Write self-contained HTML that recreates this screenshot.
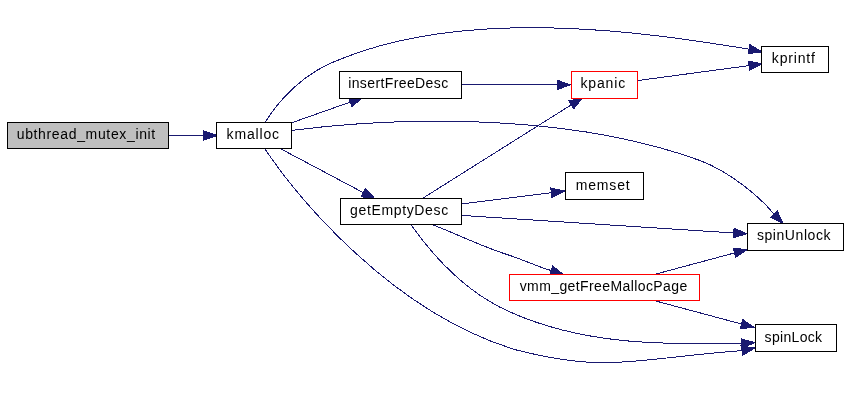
<!DOCTYPE html><html><head><meta charset="utf-8"><style>html,body{margin:0;padding:0;background:#fff;overflow:hidden}svg{display:block;will-change:transform}text{font-family:"Liberation Sans",sans-serif;fill:#000}</style></head><body>
<svg width="848" height="407" viewBox="0 0 848 407"><style>path,polygon,rect{shape-rendering:crispEdges}</style>
<rect width="848" height="407" fill="#fff"/>
<path d="M169.38,135.54C180.98,135.54 192.63,135.54 203.41,135.54" fill="none" stroke="#191970" stroke-width="1.0"/>
<polygon points="203.63,130.87 216.97,135.54 203.63,140.2 203.63,130.87" fill="#191970" stroke="#191970" stroke-width="1.0"/>
<path d="M291.81,122.75C309.46,116.51 330.95,108.91 350.05,102.16" fill="none" stroke="#191970" stroke-width="1.0"/>
<polygon points="348.69,97.7 362.81,97.66 351.79,106.5 348.69,97.7" fill="#191970" stroke="#191970" stroke-width="1.0"/>
<path d="M264.71,122.79C278.22,101.31 303.00,72.41 340.74,59.05C477.78,3.50 667.11,36.00 748.91,49.15" fill="none" stroke="#191970" stroke-width="1.0"/>
<polygon points="749.91,44.59 762.01,51.88 747.99,53.72 749.91,44.59" fill="#191970" stroke="#191970" stroke-width="1.0"/>
<path d="M279.95,148.43C302.74,160.51 337.09,178.72 363.03,192.48" fill="none" stroke="#191970" stroke-width="1.0"/>
<polygon points="365.42,188.47 375.01,198.83 361.05,196.71 365.42,188.47" fill="#191970" stroke="#191970" stroke-width="1.0"/>
<path d="M291.70,130.40C369.23,120.32 553.65,107.03 700.95,160.85C729.73,172.12 759.22,195.95 773.81,213.96" fill="none" stroke="#191970" stroke-width="1.0"/>
<polygon points="777.29,210.86 783.05,223.75 770.5,217.26 777.29,210.86" fill="#191970" stroke="#191970" stroke-width="1.0"/>
<path d="M264.73,148.66C294.48,192.77 387.95,310.81 515.70,349.81C609.24,373.76 633.16,358.51 741.71,350.63" fill="none" stroke="#191970" stroke-width="1.0"/>
<polygon points="740.97,346.03 754.97,347.91 742.85,355.16 740.97,346.03" fill="#191970" stroke="#191970" stroke-width="1.0"/>
<path d="M461.5,84.87C492.03,84.87 528.61,84.87 556.91,84.87" fill="none" stroke="#191970" stroke-width="1.0"/>
<polygon points="557.15,80.2 570.49,84.87 557.15,89.54 557.15,80.2" fill="#191970" stroke="#191970" stroke-width="1.0"/>
<path d="M637.63,80.58C668.13,76.48 714.35,70.27 748.69,65.66" fill="none" stroke="#191970" stroke-width="1.0"/>
<polygon points="748.3,61 762.14,63.86 749.54,70.26 748.3,61" fill="#191970" stroke="#191970" stroke-width="1.0"/>
<path d="M422.05,198.7C457.17,176.6 529.27,131.23 571.07,104.94" fill="none" stroke="#191970" stroke-width="1.0"/>
<polygon points="568.73,100.9 582.5,97.75 573.7,108.8 568.73,100.9" fill="#191970" stroke="#191970" stroke-width="1.0"/>
<path d="M461.5,204C490.05,200.42 523.89,196.15 551.3,192.71" fill="none" stroke="#191970" stroke-width="1.0"/>
<polygon points="550.78,188.07 564.59,191.03 551.95,197.32 550.78,188.07" fill="#191970" stroke="#191970" stroke-width="1.0"/>
<path d="M461.27,215.39C534.83,220.14 659.25,228.16 733.39,232.94" fill="none" stroke="#191970" stroke-width="1.0"/>
<polygon points="734.07,228.31 747.07,233.83 733.46,237.62 734.07,228.31" fill="#191970" stroke="#191970" stroke-width="1.0"/>
<path d="M431.51,224.36C453.89,232.63 482.17,246.81 508.44,254.99C521.94,259.20 537.91,266.85 551.11,270.51" fill="none" stroke="#191970" stroke-width="1.0"/>
<polygon points="552.77,266.15 563.9,274.83 549.78,274.99 552.77,266.15" fill="#191970" stroke="#191970" stroke-width="1.0"/>
<path d="M410.50,224.28C430.89,252.91 462.96,291.21 509.43,311.72C589.05,347.72 676.37,343.88 741.41,343.55" fill="none" stroke="#191970" stroke-width="1.0"/>
<polygon points="741.26,338.88 754.9,342.58 741.94,348.19 741.26,338.88" fill="#191970" stroke="#191970" stroke-width="1.0"/>
<path d="M653.25,274.75C677.9,268.14 708.25,259.98 734.47,252.94" fill="none" stroke="#191970" stroke-width="1.0"/>
<polygon points="733.27,248.43 747.37,249.47 735.7,257.44 733.27,248.43" fill="#191970" stroke="#191970" stroke-width="1.0"/>
<path d="M653.25,300.32C680.07,307.52 713.65,316.55 741.31,323.98" fill="none" stroke="#191970" stroke-width="1.0"/>
<polygon points="742.7,319.51 754.37,327.48 740.27,328.52 742.7,319.51" fill="#191970" stroke="#191970" stroke-width="1.0"/>
<rect x="7.5" y="122.5" width="161" height="26" fill="#bfbfbf" stroke="#000" stroke-width="1"/>
<text x="16.7" y="139" font-size="14" textLength="138.55"  lengthAdjust="spacing">ubthread_mutex_init</text>
<rect x="216.5" y="122.5" width="75" height="26" fill="#fff" stroke="#000" stroke-width="1"/>
<text x="226.55" y="138.6" font-size="14" textLength="52.57"  lengthAdjust="spacing">kmalloc</text>
<rect x="339.5" y="71.5" width="122" height="27" fill="#fff" stroke="#000" stroke-width="1"/>
<text x="348.16" y="88.1" font-size="14" textLength="99.98"  lengthAdjust="spacing">insertFreeDesc</text>
<rect x="761.5" y="46.5" width="67" height="26" fill="#fff" stroke="#000" stroke-width="1"/>
<text x="771.85" y="62.8" font-size="14" textLength="43.09"  lengthAdjust="spacing">kprintf</text>
<rect x="340.5" y="198.5" width="121" height="26" fill="#fff" stroke="#000" stroke-width="1"/>
<text x="350.08" y="214.8" font-size="14" textLength="98.08"  lengthAdjust="spacing">getEmptyDesc</text>
<rect x="747.5" y="223.5" width="96" height="27" fill="#fff" stroke="#000" stroke-width="1"/>
<text x="756.89" y="239.9" font-size="14" textLength="73.62"  lengthAdjust="spacing">spinUnlock</text>
<rect x="755.5" y="324.5" width="81" height="27" fill="#fff" stroke="#000" stroke-width="1"/>
<text x="764.61" y="342.1" font-size="14" textLength="57.5"  lengthAdjust="spacing">spinLock</text>
<rect x="571.5" y="71.5" width="66" height="27" fill="#fff" stroke="#f00" stroke-width="1"/>
<text x="580.55" y="88" font-size="14" textLength="44.6"  lengthAdjust="spacing">kpanic</text>
<rect x="565.5" y="172.5" width="78" height="27" fill="#fff" stroke="#000" stroke-width="1"/>
<text x="575.79" y="189.6" font-size="14" textLength="53.84"  lengthAdjust="spacing">memset</text>
<rect x="509.5" y="274.5" width="190" height="26" fill="#fff" stroke="#f00" stroke-width="1"/>
<text x="519.67" y="291" font-size="14" textLength="167.6"  lengthAdjust="spacing">vmm_getFreeMallocPage</text>
</svg></body></html>
